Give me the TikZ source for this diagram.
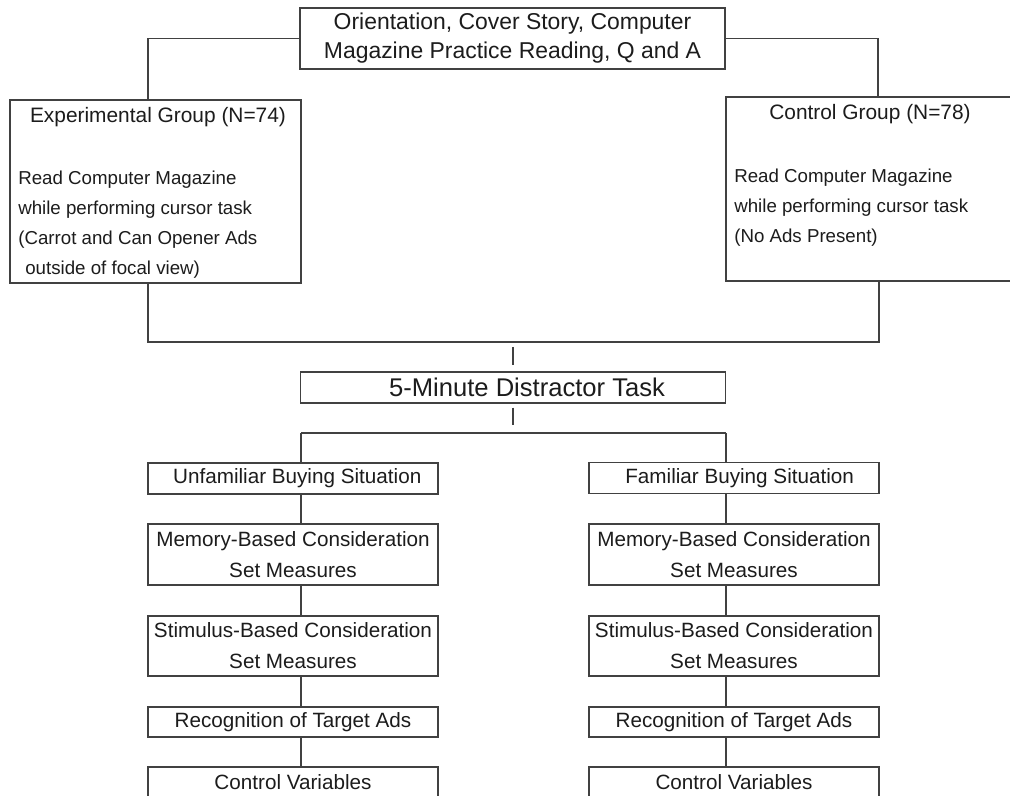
\documentclass[tikz,border=0pt]{standalone}
\usepackage{fontspec}
\setmainfont{Liberation Sans}
\usetikzlibrary{calc}
\definecolor{inkgray}{RGB}{28,28,28}
\definecolor{rulegray}{RGB}{65,65,65}
\tikzset{
  box/.style={draw=rulegray, line width=0.9pt, inner sep=0pt, align=center,
    text=inkgray, font=\fontsize{14.7}{22}\selectfont},
  boxsize/.style 2 args={minimum width=#1*0.025cm, minimum height=#2*0.025cm},
  link/.style={draw=rulegray, line width=0.9pt},
  body/.style={inner sep=0pt, align=left, text=inkgray,
    font=\fontsize{13.3}{21.3}\selectfont},
  head/.style={inner sep=0pt, text=inkgray, font=\fontsize{14.85}{20}\selectfont},
}

\begin{document}
\begin{tikzpicture}[x=0.025cm, y=-0.025cm]
  \useasboundingbox (0,0) rectangle (1010,795);
  \fill[white] (0,0) rectangle (1010,795);
  \clip (0,0) rectangle (1010,795);

  % common start
  \node[box, boxsize={425}{61}, font=\fontsize{16.3}{20.6}\selectfont] (orient) at (512.5,38.5)
    {Orientation, Cover Story, Computer\\Magazine Practice Reading, Q and A};

  % the two groups
  \node[box, boxsize={291}{183}] (exp) at (155.5,191.5) {};
  \node[box, boxsize={292}{184}] (ctrl) at (872,189) {};
  \node[head] (expHead) at (158,117) {Experimental Group (N=74)};
  \node[head] (ctrlHead) at (870,114) {Control Group (N=78)};
  \node[body, anchor=north west] (expBody) at (18,171)
    {Read Computer Magazine\\while performing cursor task\\(Carrot and Can Opener Ads\\\hspace*{5pt}outside of focal view)};
  \node[body, anchor=north west] (ctrlBody) at (734,169)
    {Read Computer Magazine\\while performing cursor task\\(No Ads Present)};

  \coordinate (expIn) at (148,100);
  \coordinate (ctrlIn) at (878,97);
  \draw[link] (orient.west) -| (expIn);
  \draw[link] (orient.east) -| (ctrlIn);

  \coordinate (expOut) at (148,283);
  \coordinate (ctrlOut) at (879,281);
  \coordinate (mergeC) at (513,342);
  \draw[link] (expOut) |- (mergeC) -| (ctrlOut);

  % distractor
  \node[box, boxsize={425}{31}, font=\fontsize{18.2}{20}\selectfont] (dist) at (513,387.5)
    {\hspace*{20pt}5-Minute Distractor Task};
  \draw[link, shorten <=3.5pt, shorten >=4.2pt] (mergeC) -- (dist.north);

  \coordinate (splitC) at (513,433);
  \coordinate (spineL) at (301,433);
  \coordinate (spineR) at (726,433);
  \draw[link, shorten <=2.8pt, shorten >=5.7pt] (dist.south) -- (splitC);
  \draw[link] (spineL) -- (spineR);

  % measures, one column per buying situation
  \node[box, boxsize={290}{31}] (sitL) at (293,478.5) {\hspace*{6pt}Unfamiliar Buying Situation};
  \node[box, boxsize={290}{31}] (sitR) at (734,478) {\hspace*{8pt}Familiar Buying Situation};
  \draw[link] (spineL) -- (sitL.north -| spineL);
  \draw[link] (spineR) -- (sitR.north -| spineR);
  \foreach \s/\cx in {L/293, R/734} {
    \node[box, boxsize={290}{61}] (mem\s) at (\cx,554.5) {Memory-Based Consideration\\Set Measures};
    \node[box, boxsize={290}{60}] (stim\s) at (\cx,646) {Stimulus-Based Consideration\\Set Measures};
    \node[box, boxsize={290}{30}] (rec\s) at (\cx,722) {Recognition of Target Ads};
    \node[box, boxsize={290}{31}] (cv\s) at (\cx,782.5) {Control Variables};
    \foreach \a/\b in {sit/mem, mem/stim, stim/rec, rec/cv}
      \draw[link] (\a\s.south -| spine\s) -- (\b\s.north -| spine\s);
  }
\end{tikzpicture}
\end{document}
